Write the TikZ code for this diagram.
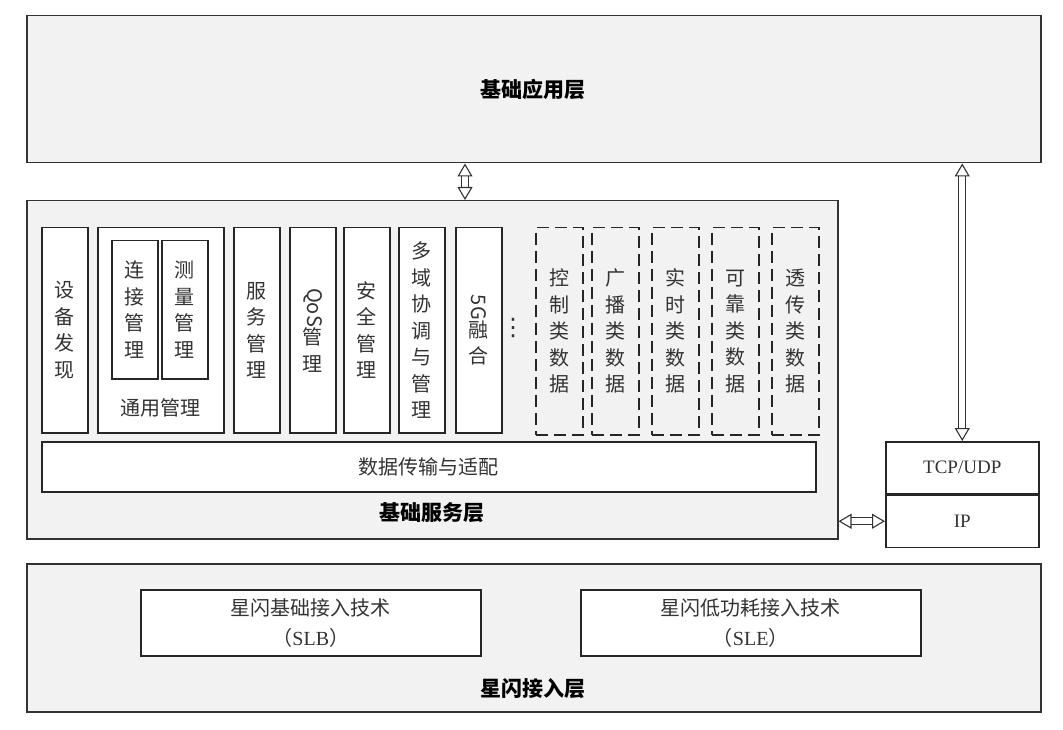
\documentclass[tikz,border=0pt]{standalone}
\usepackage{fontspec}
\usepackage{graphicx}
\setmainfont{Liberation Serif}
\newfontfamily\cjk{Noto Sans CJK SC}
\newfontfamily\sym{DejaVu Sans}
\usetikzlibrary{arrows.meta}

\begin{document}
\begin{tikzpicture}[x=1pt, y=-1pt,
  every node/.style = {font=\cjk\fontsize{20}{26.5}\selectfont,
    text=black!80, align=center, inner sep=0pt},
  layer/.style = {draw=black!80, line width=1.5pt, fill=gray!10,
    anchor=north west},
  box/.style = {draw=black!85, line width=1.5pt, fill=white,
    anchor=north west},
  dbox/.style = {draw=black!85, line width=1.5pt, dash pattern=on 12pt off 6pt,
    anchor=north west, minimum width=47pt, minimum height=207pt},
  title/.style = {font=\cjk\bfseries\fontsize{21}{26}\selectfont, text=black},
  fat/.style = {draw=black!80, line width=1.1pt, double=white, double distance=6pt,
    {Triangle[width=15pt, length=13pt, fill=white, line width=1.1pt]}-{Triangle[width=15pt, length=13pt, fill=white, line width=1.1pt]}}]
  \useasboundingbox (0,0) rectangle (1063,730);

  % layers
  \node[layer, minimum width=1014pt, minimum height=147pt] (app) at (26,15) {};
  \node[title] (appt) at (533,90) {基础应用层};
  \node[layer, minimum width=811pt, minimum height=338pt] (svc) at (26,200) {};
  \node[title] (svct) at (432,513) {基础服务层};
  \node[layer, minimum width=1014pt, minimum height=148pt] (acc) at (26,563) {};
  \node[title] (acct) at (533,689) {星闪接入层};

  % access technologies
  \node[box, minimum width=340pt, minimum height=66pt,
    font=\cjk\fontsize{20}{30}\selectfont] (slb) at (140,589)
    {星闪基础接入技术\\（{\rmfamily SLB}）};
  \node[box, minimum width=340pt, minimum height=66pt,
    font=\cjk\fontsize{20}{30}\selectfont] (sle) at (580,589)
    {星闪低功耗接入技术\\（{\rmfamily SLE}）};

  % protocol stack
  \node[box, minimum width=153pt, minimum height=52pt,
    font=\rmfamily\fontsize{19}{22}\selectfont] (tcp) at (885,441) {TCP/UDP};
  \node[box, minimum width=153pt, minimum height=52pt, anchor=north,
    font=\rmfamily\fontsize{19}{22}\selectfont] (ip) at (tcp.south) {IP};

  % service modules
  \node[box, minimum width=46pt, minimum height=205pt] (dev) at (41,227) {设\\备\\发\\现};
  \node[box, minimum width=126pt, minimum height=205pt] (gen) at (97,227) {};
  \node (gent) at (160,408) {通用管理};
  \node[box, minimum width=46pt, minimum height=138pt] (conn) at (111,240) {连\\接\\管\\理};
  \node[box, minimum width=46pt, minimum height=138pt] (meas) at (161,240) {测\\量\\管\\理};
  \foreach \x/\n/\t in {233/serv/{服\\务\\管\\理}, 289/qos/{\rotatebox{-90}{QoS}\\管\\理},
      343/sec/{安\\全\\管\\理}, 398/multi/{多\\域\\协\\调\\与\\管\\理},
      455/fiveg/{\rotatebox{-90}{5G}\\融\\合}}
    \node[box, minimum width=46pt, minimum height=205pt] (\n) at (\x,227) {\t};
  \node[font=\sym\fontsize{24}{24}\selectfont] (dots) at (513,328) {⋮};

  % data types
  \foreach \x/\t [count=\i] in {535/{控\\制}, 591/{广\\播}, 651/{实\\时},
      711/{可\\靠}, 771/{透\\传}}
    \node[dbox] (d\i) at (\x,227) {\t\\类\\数\\据};

  \node[box, minimum width=774pt, minimum height=50pt] (data) at (41,441) {数据传输与适配};

  % arrows
  \coordinate (mid) at (465,0);
  \draw[fat] (app.south -| mid) -- (svc.north -| mid);
  \draw[fat] (app.south -| tcp.north) -- (tcp.north);
  \draw[fat] (svc.east |- ip) -- (ip.west);
\end{tikzpicture}
\end{document}
